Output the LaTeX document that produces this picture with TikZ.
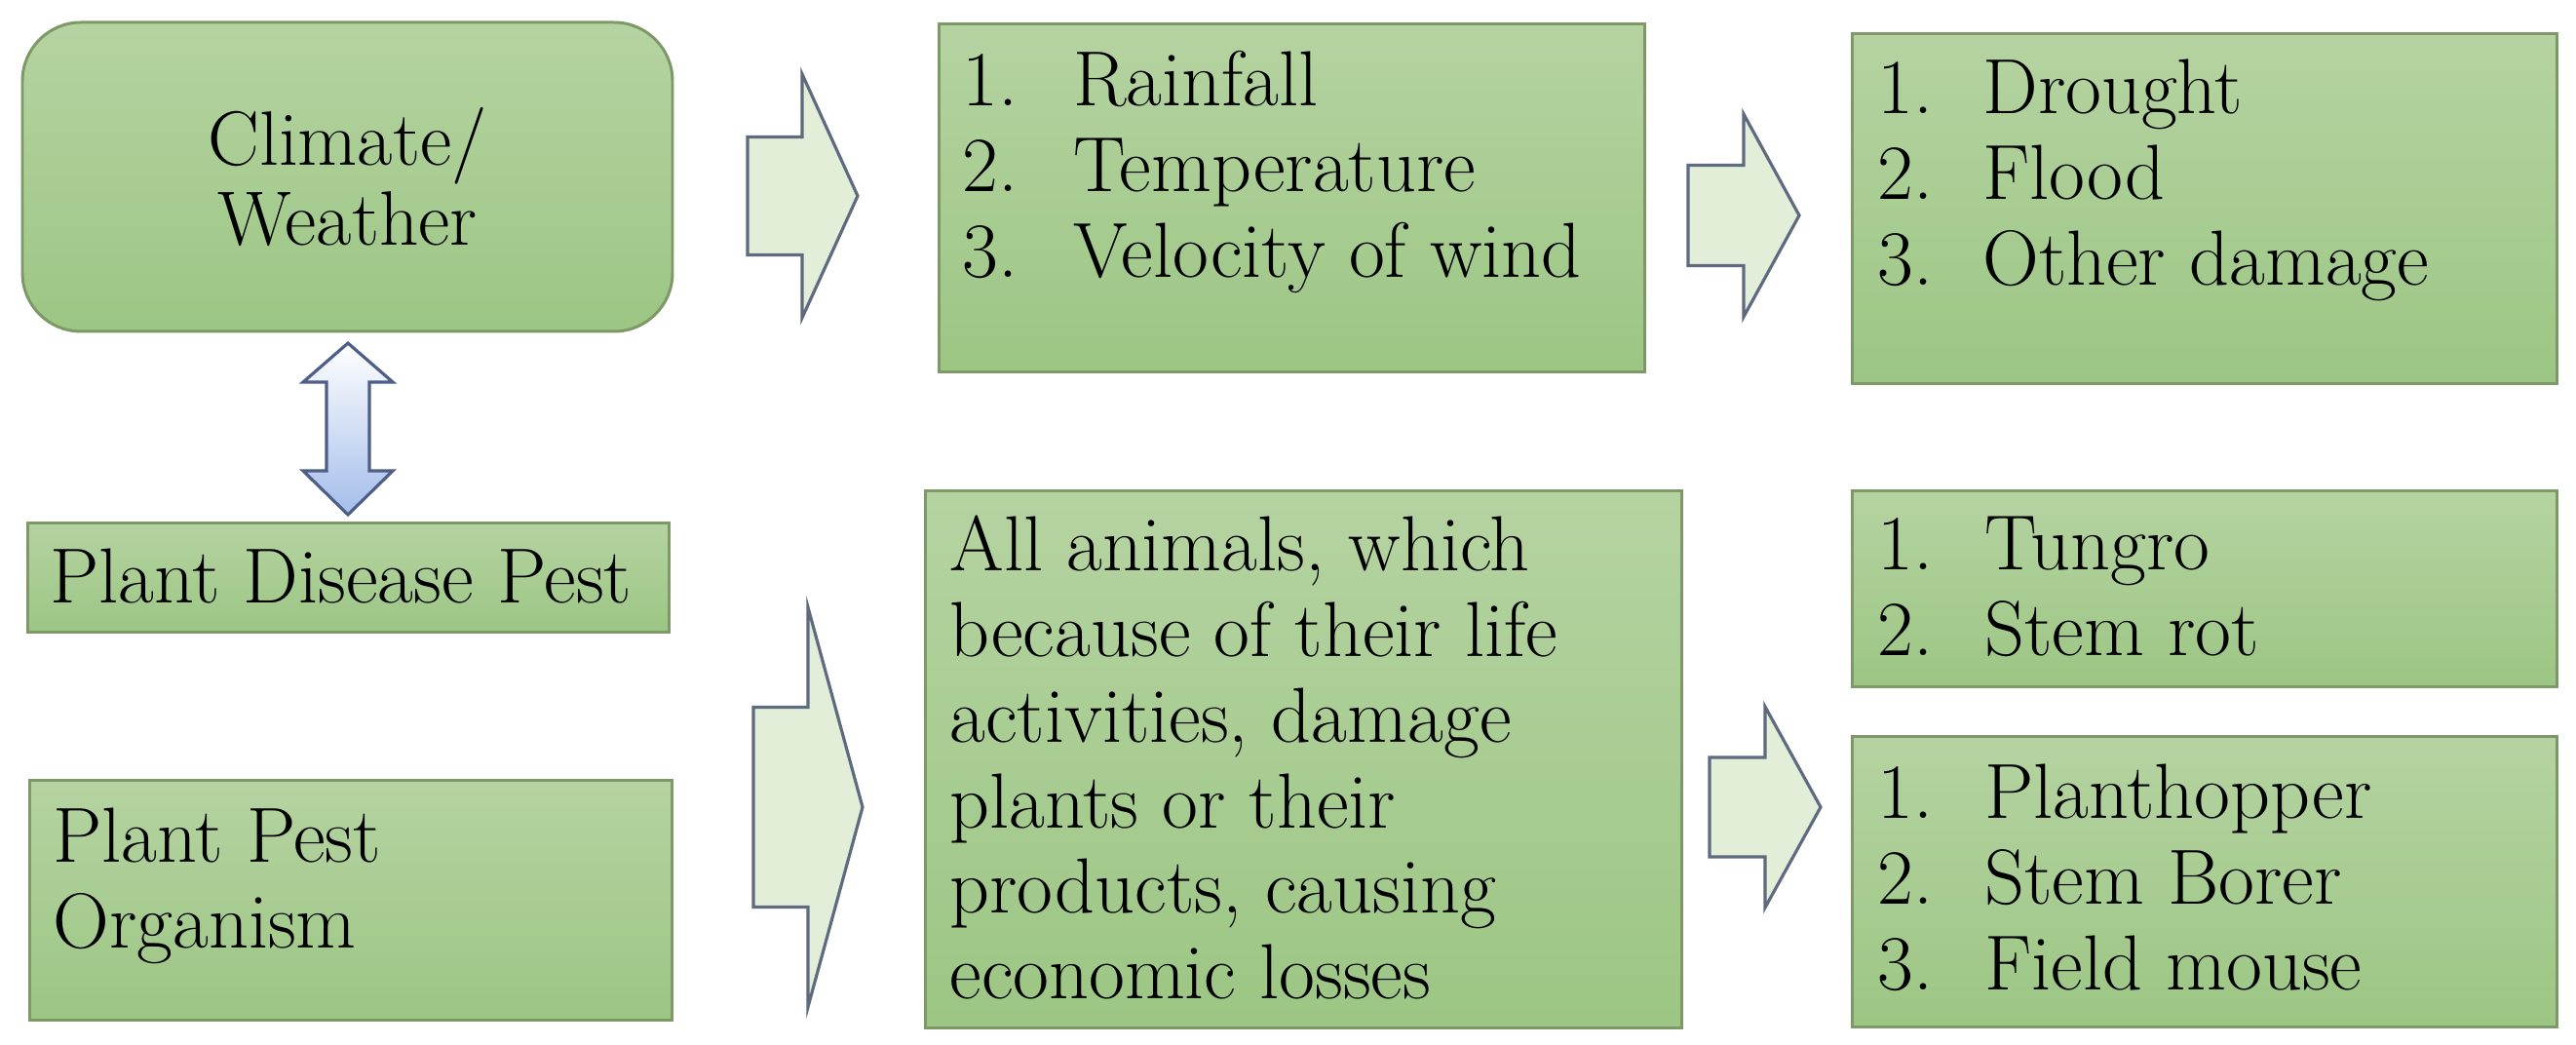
\documentclass[tikz,border=0pt]{standalone}
\definecolor{boxtop}{HTML}{B5D3A1}
\definecolor{boxbot}{HTML}{9CC684}
\definecolor{boxedge}{HTML}{7E9868}
\definecolor{arrfill}{HTML}{E3EED8}
\definecolor{arredge}{HTML}{5E6A80}
\definecolor{dblbot}{HTML}{A4BDEA}
\definecolor{dbledge}{HTML}{4E5E88}
\newcommand{\bxtext}[5]{\parbox[c][#2][t]{#1}{\leftskip=#3\relax\rule{0pt}{#4}#5\par}}
\newcommand{\numitem}[3]{\makebox[#1][l]{#2}#3}
\newcommand{\blockarr}[6]{%
  \draw[blockarrow] (#1,#4-#5) -- (#2,#4-#5) -- (#2,#4-#6) -- (#3,#4) -- (#2,#4+#6) -- (#2,#4+#5) -- (#1,#4+#5) -- cycle;}
\tikzset{
  greenbox/.style={draw=boxedge, line width=0.85pt, top color=boxtop, bottom color=boxbot,
    inner sep=0pt, anchor=north west, font=\fontsize{22.8pt}{25pt}\selectfont},
  blockarrow/.style={draw=arredge, line width=0.9pt, fill=arrfill, line join=miter},
  dblarrow/.style={draw=dbledge, line width=0.9pt, top color=white, bottom color=dblbot, line join=miter}
}
\begin{document}
\begin{tikzpicture}[x=1cm, y=-1cm]
\fill[white] (0,0) rectangle (26.43,10.72);
\useasboundingbox (0,0) rectangle (26.43,10.72);

% top row
\node[greenbox, anchor=center, rounded corners=0.6cm, minimum width=6.67cm, minimum height=3.17cm,
  align=center, font=\fontsize{22.5pt}{23.5pt}\selectfont] (b1) at (3.565,1.815) {Climate/\\Weather};

\node[greenbox, minimum width=7.24cm, minimum height=3.57cm] (b2) at (9.62,0.23)
  {\bxtext{7.24cm}{3.57cm}{0.24cm}{0.84cm}{\numitem{1.14cm}{1.}{Rainfall}\\\numitem{1.14cm}{2.}{Temperature}\\\numitem{1.14cm}{3.}{Velocity of wind}}};

\node[greenbox, minimum width=7.23cm, minimum height=3.59cm] (b3) at (18.99,0.33)
  {\bxtext{7.23cm}{3.59cm}{0.26cm}{0.82cm}{\numitem{1.08cm}{1.}{Drought}\\\numitem{1.08cm}{2.}{Flood}\\\numitem{1.08cm}{3.}{Other damage}}};

% left column
\node[greenbox, minimum width=6.58cm, minimum height=1.12cm] (b4) at (0.27,5.35)
  {\bxtext{6.58cm}{1.12cm}{0.23cm}{0.82cm}{Plant Disease Pest}};

\node[greenbox, minimum width=6.59cm, minimum height=2.46cm] (b5) at (0.29,7.99)
  {\bxtext{6.59cm}{2.46cm}{0.24cm}{0.84cm}{Plant Pest\\Organism}};

% middle bottom
\node[greenbox, minimum width=7.76cm, minimum height=5.51cm] (b6) at (9.48,5.02)
  {\bxtext{7.76cm}{5.51cm}{0.25cm}{0.82cm}{All animals, which\\because of their life\\activities, damage\\plants or their\\products, causing\\economic losses}};

% right bottom
\node[greenbox, minimum width=7.23cm, minimum height=2.01cm] (b7) at (18.99,5.02)
  {\bxtext{7.23cm}{2.01cm}{0.26cm}{0.81cm}{\numitem{1.10cm}{1.}{Tungro}\\\numitem{1.10cm}{2.}{Stem rot}}};

\node[greenbox, minimum width=7.23cm, minimum height=2.98cm] (b8) at (18.99,7.54)
  {\bxtext{7.23cm}{2.98cm}{0.26cm}{0.84cm}{\numitem{1.10cm}{1.}{Planthopper}\\\numitem{1.10cm}{2.}{Stem Borer}\\\numitem{1.10cm}{3.}{Field mouse}}};

% block arrows
\blockarr{7.67}{8.23}{8.80}{2.01}{0.605}{1.25}
\blockarr{17.32}{17.89}{18.46}{2.21}{0.515}{1.04}
\blockarr{7.73}{8.29}{8.85}{8.28}{1.025}{2.05}
\blockarr{17.54}{18.11}{18.68}{8.28}{0.51}{1.03}

% double arrow between Climate/Weather and Plant Disease Pest
\coordinate (dt) at (3.57,3.52);
\coordinate (db) at (3.57,5.28);
\draw[dblarrow] (dt) -- (4.03,3.92) -- (3.79,3.92) -- (3.79,4.83) -- (4.03,4.83) -- (db)
  -- (3.11,4.83) -- (3.35,4.83) -- (3.35,3.92) -- (3.11,3.92) -- cycle;
\end{tikzpicture}
\end{document}
